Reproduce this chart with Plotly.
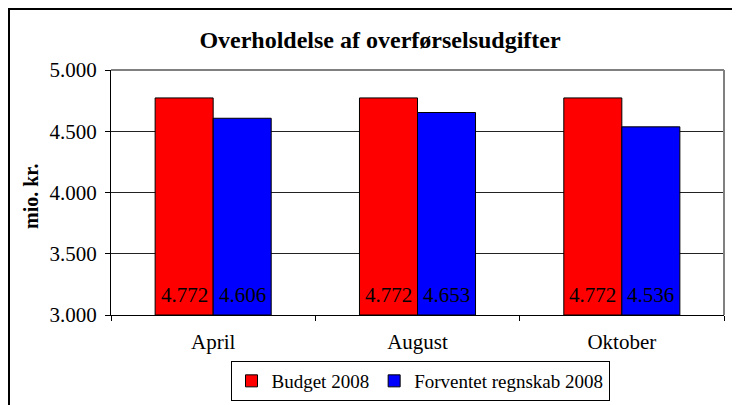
import plotly.graph_objects as go

categories = ["April", "August", "Oktober"]
budget = [4772, 4772, 4772]
forventet = [4606, 4653, 4536]
series_names = ["Budget 2008", "Forventet regnskab 2008"]
title_text = "Overholdelse af overførselsudgifter"
y_title = "mio. kr."
y_ticks = [3000, 3500, 4000, 4500, 5000]
y_min, y_max = 3000, 5000

FONT = "Liberation Serif, Times New Roman, serif"
OFF = 8  # page offset of the plot in the browser
W, H = 740 - OFF, 405 - OFF
L, T = 111 - OFF, 70 - OFF
R = W - (724 - OFF)
B = H - (315 - OFF)
pw = W - L - R
ph = H - T - B

def px2x(sx):
    return (sx - OFF - L) / pw

def py2y(sy):
    return (H - B - (sy - OFF)) / ph

fig = go.Figure()
for name, vals, col in [(series_names[0], budget, "#FF0000"),
                        (series_names[1], forventet, "#0000FF")]:
    fig.add_trace(go.Bar(
        x=categories, y=[v - y_min for v in vals], base=y_min, name=name,
        marker=dict(color=col, line=dict(color="black", width=1)),
    ))

annotations = []
for vals, shift in [(budget, -29), (forventet, 29)]:
    for c, v in zip(categories, vals):
        annotations.append(dict(
            x=c, y=y_min, xref="x", yref="y", xshift=shift, yshift=20,
            text=f"{v:,}".replace(",", "."), showarrow=False,
            xanchor="center", yanchor="middle",
            font=dict(family=FONT, size=21, color="black")))

annotations.append(dict(
    text="<b>" + y_title + "</b>", xref="paper", yref="paper",
    x=px2x(31), y=py2y(197), xanchor="center", yanchor="middle",
    textangle=-90, showarrow=False,
    font=dict(family=FONT, size=20, color="black")))

fig.update_layout(
    width=W, height=H,
    margin=dict(l=L, r=R, t=T, b=B, autoexpand=False),
    paper_bgcolor="white", plot_bgcolor="white",
    separators=",.",
    barmode="group", bargap=0.432, bargroupgap=0,
    font=dict(family=FONT, size=21, color="black"),
    title=dict(text="<b>" + title_text + "</b>", x=px2x(380) * pw / W + L / W,
               xanchor="center", xref="container",
               y=1 - (40 - OFF) / H, yanchor="middle", yref="container",
               font=dict(family=FONT, size=24, color="black")),
    showlegend=True,
    legend=dict(orientation="h", x=px2x(420), xanchor="center",
                y=py2y(361), yanchor="top",
                bordercolor="black", borderwidth=1,
                font=dict(family=FONT, size=19, color="black"),
                itemwidth=30, tracegroupgap=0),
    xaxis=dict(showline=True, linecolor="black", linewidth=1,
               ticks="outside", ticklen=5, tickcolor="black",
               tickson="boundaries", showgrid=False, ticklabelstandoff=8,
               tickfont=dict(family=FONT, size=21, color="black")),
    yaxis=dict(range=[y_min, y_max], tickvals=y_ticks, tickformat=",.0f",
               showline=True, linecolor="black", linewidth=1,
               ticks="outside", ticklen=5, tickcolor="black",
               showgrid=True, gridcolor="#222222", gridwidth=1,
               zeroline=False, ticklabelstandoff=4,
               tickfont=dict(family=FONT, size=21, color="black")),
    shapes=[
        dict(type="line", xref="paper", yref="paper", x0=0, x1=1, y0=1, y1=1,
             line=dict(color="#808080", width=2), layer="above"),
        dict(type="line", xref="paper", yref="paper", x0=1, x1=1, y0=0, y1=1,
             line=dict(color="#808080", width=2), layer="above"),
        dict(type="line", xref="paper", yref="paper",
             x0=(1 - L) / pw, x1=(1 - L) / pw, y0=py2y(8), y1=py2y(430),
             line=dict(color="black", width=2), layer="above"),
        dict(type="line", xref="paper", yref="paper",
             x0=(1 - L) / pw, x1=px2x(760), y0=(H - B - 1) / ph, y1=(H - B - 1) / ph,
             line=dict(color="black", width=2), layer="above"),
    ],
    annotations=annotations,
)

fig.write_html("out.html")
